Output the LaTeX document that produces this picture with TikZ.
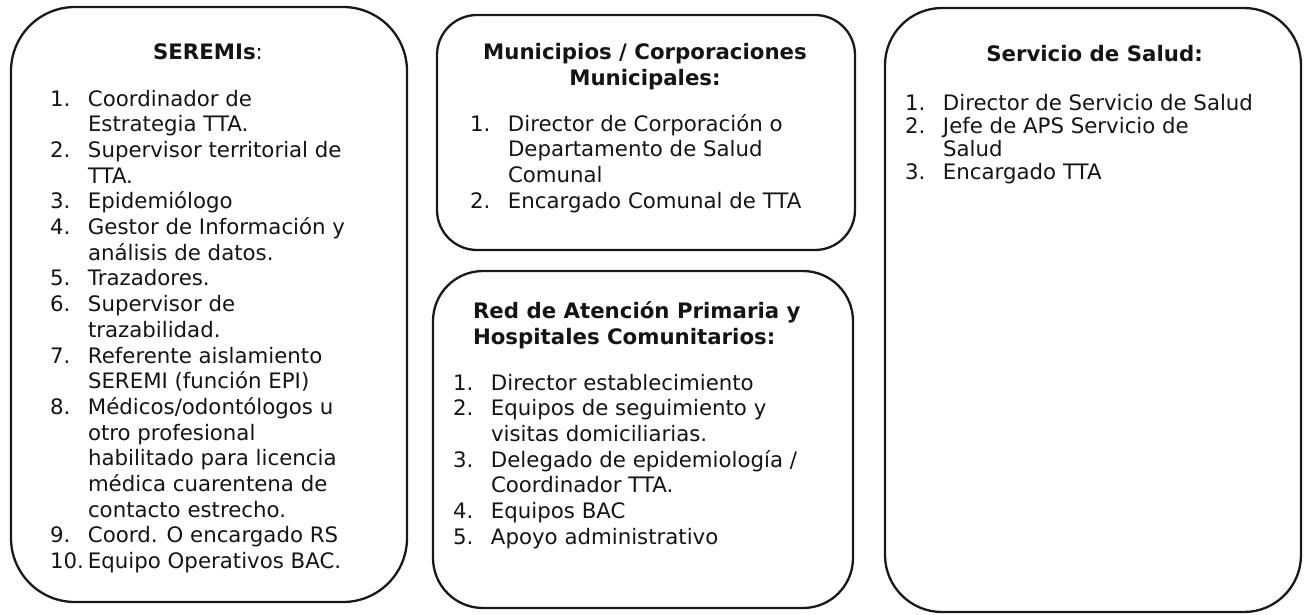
\documentclass[tikz,border=0pt]{standalone}
\usepackage{fontspec}
\setmainfont{DejaVu Sans}
\newcommand{\nm}[1]{\makebox[38pt][l]{#1}}
\begin{document}
\begin{tikzpicture}[x=1pt,y=-1pt,
  card/.style={draw=black!90,line width=2.3pt,rectangle,inner sep=0pt,outer sep=0pt},
  txt/.style={inner sep=0pt,outer sep=0pt,text=black!92},
  listfont/.style={font=\fontsize{21.3}{25.7}\selectfont},
  listfonttight/.style={font=\fontsize{21.3}{23.3}\selectfont},
  headfont/.style={font=\fontsize{21.3}{26.5}\selectfont}]
\useasboundingbox (0,0) rectangle (1304,614);
% boxes
\node[card,rounded corners=64pt,minimum width=396pt,minimum height=595pt] (b1) at (209,304.5) {};
\node[card,rounded corners=40pt,minimum width=418pt,minimum height=235pt] (b2) at (646,132.5) {};
\node[card,rounded corners=50pt,minimum width=420pt,minimum height=337pt] (b3) at (643,439.5) {};
\node[card,rounded corners=57pt,minimum width=416pt,minimum height=604pt] (b4) at (1093,310) {};
% box 1
\node[txt,headfont,anchor=base] (b1h) at (208,59) {\textbf{SEREMIs}:};
\node[txt,listfont,anchor=base west] (b1l) at (50,106) {\begin{tabular}[t]{@{}l@{}l@{}}
\nm{1.} & Coordinador de\\
 & Estrategia TTA.\\
\nm{2.} & Supervisor territorial de\\
 & TTA.\\
\nm{3.} & Epidemiólogo\\
\nm{4.} & Gestor de Información y\\
 & análisis de datos.\\
\nm{5.} & Trazadores.\\
\nm{6.} & Supervisor de\\
 & trazabilidad.\\
\nm{7.} & Referente aislamiento\\
 & SEREMI (función EPI)\\
\nm{8.} & Médicos/odontólogos u\\
 & otro profesional\\
 & habilitado para licencia\\
 & médica cuarentena de\\
 & contacto estrecho.\\
\nm{9.} & Coord. O encargado RS\\
\nm{10.} & Equipo Operativos BAC.
\end{tabular}};
% box 2
\node[txt,headfont,anchor=base] (b2h) at (645,59) {\begin{tabular}[t]{@{}c@{}}
\textbf{Municipios / Corporaciones}\\
\textbf{Municipales:}
\end{tabular}};
\node[txt,listfont,anchor=base west] (b2l) at (470,131) {\begin{tabular}[t]{@{}l@{}l@{}}
\nm{1.} & Director de Corporación o\\
 & Departamento de Salud\\
 & Comunal\\
\nm{2.} & Encargado Comunal de TTA
\end{tabular}};
% box 3
\node[txt,headfont,anchor=base west] (b3h) at (473,318) {\begin{tabular}[t]{@{}l@{}}
\textbf{Red de Atención Primaria y}\\
\textbf{Hospitales Comunitarios:}
\end{tabular}};
\node[txt,listfont,anchor=base west] (b3l) at (453,390) {\begin{tabular}[t]{@{}l@{}l@{}}
\nm{1.} & Director establecimiento\\
\nm{2.} & Equipos de seguimiento y\\
 & visitas domiciliarias.\\
\nm{3.} & Delegado de epidemiología /\\
 & Coordinador TTA.\\
\nm{4.} & Equipos BAC\\
\nm{5.} & Apoyo administrativo
\end{tabular}};
% box 4
\node[txt,headfont,anchor=base] (b4h) at (1094.5,61) {\textbf{Servicio de Salud:}};
\node[txt,listfonttight,anchor=base west] (b4l) at (905,110) {\begin{tabular}[t]{@{}l@{}l@{}}
\nm{1.} & Director de Servicio de Salud\\
\nm{2.} & Jefe de APS Servicio de\\
 & Salud\\
\nm{3.} & Encargado TTA
\end{tabular}};
\end{tikzpicture}
\end{document}
